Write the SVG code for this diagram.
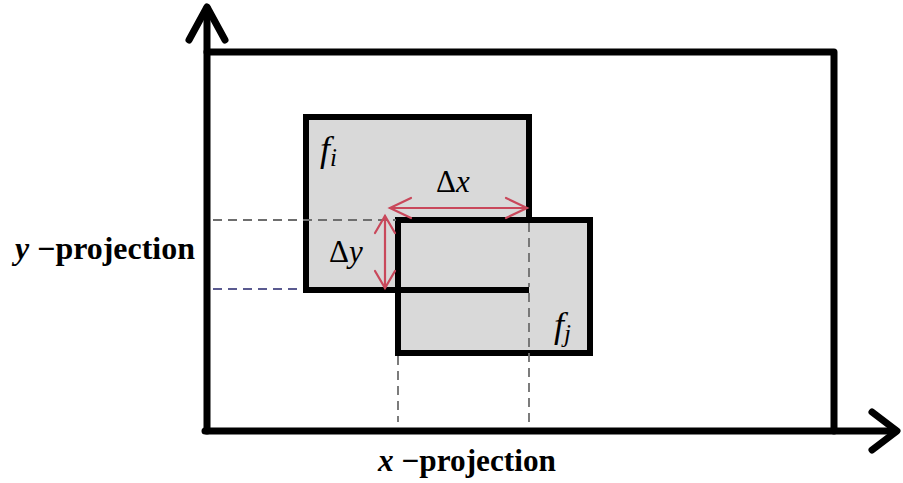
<svg xmlns="http://www.w3.org/2000/svg" width="903" height="483" viewBox="0 0 903 483">
<defs>
<style>
.box{fill:#d9d9d9;stroke:#000;stroke-width:6}
.ax{stroke:#000;stroke-width:7;fill:none;stroke-linecap:round;stroke-linejoin:round}
.dash{stroke:#6e6e6e;stroke-width:1.8;stroke-dasharray:9 6;fill:none}
.dashb{stroke:#5a5a90;stroke-width:1.8;stroke-dasharray:9 6;fill:none}
.red{stroke:#c9485b;stroke-width:2.2;fill:none;stroke-linecap:round}
.math{font-family:"Liberation Serif","DejaVu Serif",serif;fill:#000}
.lab{font-family:"Liberation Serif","Times New Roman",serif;font-weight:bold;font-size:31px;fill:#000}
</style>
</defs>
<rect width="903" height="483" fill="#fff"/>
<g id="frame">
<polyline class="ax" points="207,52 834,52 834,431" stroke-width="6"/>
</g>
<g id="axes">
<line class="ax" x1="207" y1="8" x2="207" y2="431"/>
<line class="ax" x1="205" y1="431" x2="896" y2="431"/>
<polyline class="ax" points="189,40 207,7 225,40" stroke-width="8"/>
<polyline class="ax" points="872,412 897,431 872,450" stroke-width="8"/>
</g>
<g id="fi">
<rect class="box" x="306" y="117" width="223" height="173"/>
</g>
<g id="fj">
<rect class="box" x="398" y="220" width="192" height="133"/>
</g>
<g id="connectors">
<line x1="306" y1="290" x2="529" y2="290" stroke="#000" stroke-width="6"/>
<line class="dash" x1="213" y1="220" x2="396" y2="220"/>
<line class="dashb" x1="213" y1="289" x2="303" y2="289"/>
<line class="dash" x1="529" y1="223" x2="529" y2="287"/>
<line class="dash" x1="529" y1="293" x2="529" y2="422"/>
<line class="dash" x1="398" y1="356" x2="398" y2="422"/>
<g id="dx">
<line class="red" x1="390" y1="208" x2="527" y2="208"/>
<polyline class="red" points="411,198 390,208 411,218"/>
<polyline class="red" points="506,198 527,208 506,218"/>
</g>
<g id="dy">
<line class="red" x1="385" y1="216" x2="385" y2="288"/>
<polyline class="red" points="375,233 385,216 395,233"/>
<polyline class="red" points="375,271 385,288 395,271"/>
</g>
</g>
<g id="labels">
<text class="math" x="320" y="161" font-size="36" font-style="italic">f<tspan font-size="25" dy="5">i</tspan></text>
<text class="math" x="436" y="192" font-size="31">Δ<tspan font-style="italic">x</tspan></text>
<text class="math" x="329" y="262" font-size="31">Δ<tspan font-style="italic">y</tspan></text>
<text class="math" x="554" y="337" font-size="36" font-style="italic">f<tspan font-size="25" dy="5">j</tspan></text>
<text class="lab" x="15" y="259" textLength="180" lengthAdjust="spacingAndGlyphs"><tspan font-style="italic">y</tspan> −projection</text>
<text class="lab" x="378" y="471" textLength="178" lengthAdjust="spacingAndGlyphs"><tspan font-style="italic">x</tspan> −projection</text>
</g>
</svg>
